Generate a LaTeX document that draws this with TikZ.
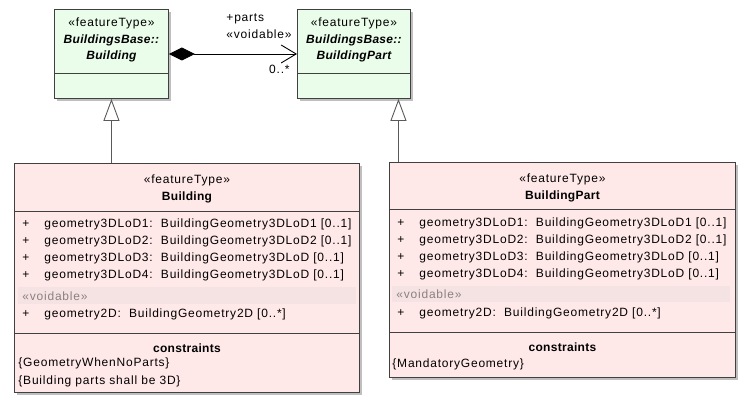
\documentclass[tikz,border=0pt]{standalone}
\usepackage{fontspec}
\setmainfont{Liberation Sans}[LetterSpace=6.5]
\newfontfamily\namefont{Liberation Sans}[LetterSpace=2.5]
\usetikzlibrary{arrows.meta, positioning, calc, shadows}
\definecolor{basefill}{HTML}{EAFCEA}
\definecolor{classfill}{HTML}{FFE8E8}
\definecolor{voidfill}{HTML}{F5E3E3}
\definecolor{voidtext}{HTML}{8E8080}
\definecolor{umlframe}{HTML}{404040}
\newcommand{\umlsize}{\fontsize{12bp}{17bp}\selectfont}
\newcommand{\plusattr}{\makebox[22bp][l]{+}}
\tikzset{
    umldiagram/.style={x=1bp, y=-1bp, font=\umlsize, line width=0.9bp},
    umlclass/.style={draw=umlframe, anchor=north west, inner sep=0pt,
        drop shadow={shadow xshift=3bp, shadow yshift=-3bp, opacity=1, fill=black!25}},
    baseclass/.style={umlclass, fill=basefill, minimum height=89bp},
    featclass/.style={umlclass, fill=classfill},
    header/.style={inner sep=0pt, align=center, font=\fontsize{12bp}{16.5bp}\selectfont},
    attrs/.style={inner sep=0pt, align=left},
    voidband/.style={fill=voidfill, inner sep=0pt, inner xsep=4bp, minimum height=16.5bp,
        text width=330bp, align=left, text=voidtext},
    divider/.style={draw=umlframe},
    composition/.style={{Diamond[length=26bp, width=13bp]}-{Straight Barb[length=15bp, width=18bp]}},
    generalization/.style={draw=black!65, -{Triangle[open, length=22bp, width=16bp]}},
}

\begin{document}
\begin{tikzpicture}[umldiagram]
    \useasboundingbox (0,0) rectangle (745,403);

    % BuildingsBase supertypes
    \node[baseclass, minimum width=114bp] (basebldg) at (54,9) {};
    \node[baseclass, minimum width=113bp] (basepart) at (297,9) {};
    \draw[divider] ($(basebldg.north west)+(0,64)$) -- ($(basebldg.north east)+(0,64)$);
    \draw[divider] ($(basepart.north west)+(0,64)$) -- ($(basepart.north east)+(0,64)$);
    \node[header, below=8.4bp of basebldg.north] (basebldgname)
        {«featureType»\\{\namefont\bfseries\itshape BuildingsBase::}\\{\namefont\bfseries\itshape Building}};
    \node[header, below=8.4bp of basepart.north] (basepartname)
        {«featureType»\\{\namefont\bfseries\itshape BuildingsBase::}\\{\namefont\bfseries\itshape BuildingPart}};

    % parts association
    \draw[composition] (basebldg) -- (basepart);
    \node[attrs, above left=14.5bp and 5bp of basepart.west] (partsrole) {+parts\\«voidable»};
    \node[attrs, below left=11bp and 7bp of basepart.west] (partsmult) {0..*};

    % Building
    \node[featclass, minimum width=345bp, minimum height=229bp] (bldg) at (14,163) {};
    \draw[divider] ($(bldg.north west)+(0,48)$) -- ($(bldg.north east)+(0,48)$);
    \draw[divider] ($(bldg.north west)+(0,170)$) -- ($(bldg.north east)+(0,170)$);
    \node[header, below=11.4bp of bldg.north] (bldgname) {«featureType»\\{\namefont\bfseries Building}};
    \node[attrs, below right=55.4bp and 8bp of bldg.north west] (bldgattrs)
        {\plusattr geometry3DLoD1:\ \ BuildingGeometry3DLoD1 [0..1]\\
         \plusattr geometry3DLoD2:\ \ BuildingGeometry3DLoD2 [0..1]\\
         \plusattr geometry3DLoD3:\ \ BuildingGeometry3DLoD [0..1]\\
         \plusattr geometry3DLoD4:\ \ BuildingGeometry3DLoD [0..1]};
    \node[voidband, below right=124bp and 4bp of bldg.north west] (bldgvoid) {«voidable»};
    \node[attrs, below right=145.4bp and 8bp of bldg.north west] (bldggeom)
        {\plusattr geometry2D:\ \ BuildingGeometry2D [0..*]};
    \node[header, below=180.4bp of bldg.north] (bldgcons) {{\namefont\bfseries constraints}};
    \node[attrs, font=\fontsize{12bp}{18bp}\selectfont, below right=194.4bp and 4bp of bldg.north west] (bldgrules)
        {\{GeometryWhenNoParts\}\\\{Building parts shall be 3D\}};

    % BuildingPart
    \node[featclass, minimum width=346bp, minimum height=215bp] (part) at (389,162) {};
    \draw[divider] ($(part.north west)+(0,47.5)$) -- ($(part.north east)+(0,47.5)$);
    \draw[divider] ($(part.north west)+(0,170)$) -- ($(part.north east)+(0,170)$);
    \node[header, below=11.4bp of part.north] (partname) {«featureType»\\{\namefont\bfseries BuildingPart}};
    \node[attrs, below right=55.4bp and 8bp of part.north west] (partattrs)
        {\plusattr geometry3DLoD1:\ \ BuildingGeometry3DLoD1 [0..1]\\
         \plusattr geometry3DLoD2:\ \ BuildingGeometry3DLoD2 [0..1]\\
         \plusattr geometry3DLoD3:\ \ BuildingGeometry3DLoD [0..1]\\
         \plusattr geometry3DLoD4:\ \ BuildingGeometry3DLoD [0..1]};
    \node[voidband, below right=123.5bp and 3bp of part.north west] (partvoid) {«voidable»};
    \node[attrs, below right=145.4bp and 8bp of part.north west] (partgeom)
        {\plusattr geometry2D:\ \ BuildingGeometry2D [0..*]};
    \node[header, below=180.4bp of part.north] (partcons) {{\namefont\bfseries constraints}};
    \node[attrs, below right=196.4bp and 3bp of part.north west] (partrules) {\{MandatoryGeometry\}};

    % generalizations
    \draw[generalization] (basebldg.south |- bldg.north) -- (basebldg.south);
    \draw[generalization] ([xshift=44.5bp]basepart.south |- part.north) -- ([xshift=44.5bp]basepart.south);
\end{tikzpicture}
\end{document}
